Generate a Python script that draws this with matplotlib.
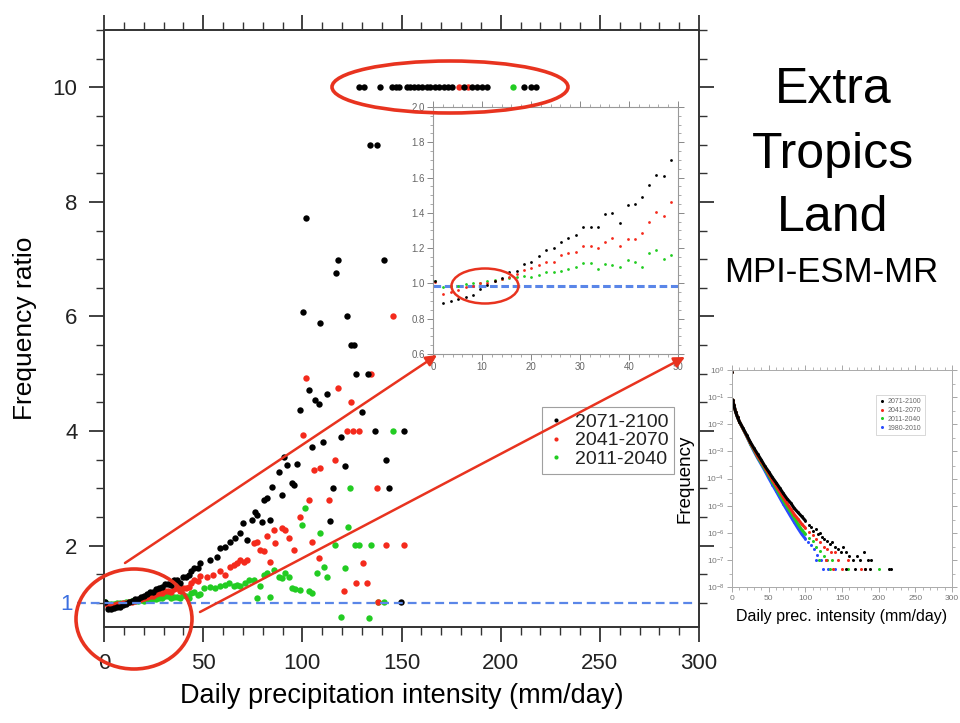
import matplotlib
matplotlib.use('Agg')
import matplotlib.pyplot as plt
from matplotlib.patches import Ellipse
from matplotlib.ticker import MultipleLocator, LogLocator, NullFormatter
from matplotlib.lines import Line2D

plt.rcParams['font.family'] = ['Liberation Sans', 'DejaVu Sans']

# ---- frequency ratio (future / 1980-2010) ----
x_2071 = [0.5, 2.0, 3.7, 5.1, 6.7, 8.1, 9.6, 11.1, 12.6, 14.1, 15.6, 17.1, 18.6, 20.1,
          21.6, 23.1, 24.6, 26.1, 27.6, 29.1, 30.6, 32.2, 33.6, 35.1, 36.6, 38.1, 39.7,
          41.2, 42.7, 44.1, 45.6, 47.2, 48.6,
          53.5, 57.0, 58.6, 61.0, 63.6, 66.0, 68.7, 70.3, 72.0, 74.6, 76.3, 77.0, 79.6,
          80.5, 82.0, 83.8, 84.7, 88.0, 89.7, 90.6, 92.3, 94.8, 95.6, 97.3, 98.6, 100.2,
          102.0, 103.2, 104.9, 106.6, 108.2, 109.0, 110.4, 112.5, 113.8, 115.3, 116.9,
          118.0, 119.5, 121.7, 122.7, 124.6, 126.3, 127.3, 130.3, 133.0, 134.3, 136.4,
          137.7, 141.0, 142.4, 143.9, 149.8, 151.2,
          128.5, 131.0, 139.4, 145.3, 147.0, 148.6, 152.9, 154.5, 156.2, 158.2, 160.4,
          163.0, 164.6, 166.7, 168.8, 171.4, 173.4, 175.6, 181.5, 185.7, 188.2, 190.8,
          193.3, 211.8, 215.2, 217.7]
r_2071 = [1.015, 0.889, 0.898, 0.913, 0.924, 0.935, 0.967, 0.99, 1.015, 1.03, 1.067, 1.071,
          1.109, 1.124, 1.156, 1.19, 1.199, 1.235, 1.258, 1.275, 1.322, 1.322, 1.32, 1.395,
          1.397, 1.344, 1.444, 1.448, 1.489, 1.557, 1.614, 1.61, 1.697,
          1.75, 1.81, 1.96, 1.98, 2.07, 2.13, 2.22, 2.39, 2.10, 2.45, 2.59, 2.53, 2.42,
          2.80, 2.83, 2.45, 3.03, 3.29, 2.88, 3.55, 3.41, 3.09, 3.06, 3.42, 4.36, 6.07,
          7.72, 4.71, 3.72, 4.54, 4.48, 5.89, 3.81, 4.65, 2.43, 3.00, 6.75,
          6.99, 3.89, 3.39, 6.00, 5.50, 5.50, 5.00, 4.33, 5.00, 9.0, 4.00,
          9.0, 6.99, 3.50, 3.00, 1.02, 4.00,
          10, 10, 10, 10, 10, 10, 10, 10, 10, 10, 10,
          10, 10, 10, 10, 10, 10, 10, 10, 10, 10, 10,
          10, 10, 10, 10]

x_2041 = [0.5, 2.0, 3.7, 5.1, 6.7, 8.1, 9.6, 11.1, 12.6, 14.1, 15.6, 17.1, 18.6, 20.1,
          21.6, 23.1, 24.6, 26.1, 27.6, 29.1, 30.6, 32.2, 33.6, 35.1, 36.6, 38.1, 39.7,
          41.2, 42.7, 44.1, 45.6, 47.2, 48.6,
          51.9, 55.2, 58.6, 61.1, 63.6, 65.3, 67.0, 68.7, 70.4, 72.0, 75.4, 77.1, 78.8,
          80.5, 82.2, 83.8, 85.5, 86.4, 89.7, 91.4, 93.1, 95.6, 99.0, 100.2, 101.8, 103.2,
          104.9, 105.7, 108.2, 109.0, 113.3, 116.7, 118.0, 120.9, 122.7, 124.3, 125.5,
          127.3, 128.4, 130.7, 132.7, 134.8, 137.7, 138.0, 142.4, 145.5, 151.2, 179.0, 183.5]
r_2041 = [1.007, 0.939, 0.95, 0.964, 0.977, 0.988, 1.0, 1.005, 1.011, 1.024, 1.039, 1.054,
          1.077, 1.086, 1.105, 1.124, 1.124, 1.162, 1.175, 1.18, 1.214, 1.214, 1.199, 1.237,
          1.256, 1.212, 1.252, 1.252, 1.284, 1.346, 1.403, 1.384, 1.463,
          1.46, 1.49, 1.55, 1.49, 1.63, 1.66, 1.69, 1.75, 1.72, 1.75, 2.04, 2.07, 1.93,
          1.90, 2.16, 1.72, 2.27, 2.04, 2.30, 2.27, 2.13, 1.93, 2.50, 3.93, 4.92, 2.80,
          2.07, 3.32, 1.78, 3.35, 2.80, 3.49, 4.75, 1.20, 4.0, 4.50, 4.0,
          1.34, 4.0, 1.69, 1.34, 5.0, 3.0, 1.02, 2.01, 6.0, 2.01, 10, 10]

x_2011 = [0.5, 2.0, 3.7, 5.1, 6.7, 8.1, 9.6, 11.1, 12.6, 14.1, 15.6, 17.1, 18.6, 20.1,
          21.6, 23.1, 24.6, 26.1, 27.6, 29.1, 30.6, 32.2, 33.6, 35.1, 36.6, 38.1, 39.7,
          41.2, 42.7, 44.1, 45.6, 47.2, 48.6,
          50.2, 53.5, 56.1, 58.6, 61.1, 62.8, 65.3, 67.0, 68.7, 71.2, 72.9, 75.4, 77.1,
          78.8, 80.5, 82.2, 83.8, 85.5, 88.0, 89.7, 91.4, 93.1, 94.8, 96.5, 99.0, 99.8,
          101.5, 103.2, 104.9, 107.4, 109.0, 110.8, 112.5, 116.7, 119.5, 121.7, 122.9,
          124.2, 126.8, 128.4, 133.5, 134.7, 138.0, 141.1, 145.5, 206.0]
r_2011 = [1.015, 0.977, 0.983, 0.988, 0.996, 1.001, 1.005, 1.011, 1.018, 1.026, 1.033,
          1.039, 1.043, 1.039, 1.048, 1.062, 1.062, 1.071, 1.081, 1.092, 1.113, 1.118,
          1.082, 1.111, 1.105, 1.092, 1.131, 1.12, 1.094, 1.173, 1.19, 1.139, 1.162,
          1.26, 1.27, 1.26, 1.29, 1.32, 1.34, 1.29, 1.32, 1.30, 1.34, 1.40, 1.40, 1.08,
          1.29, 1.49, 1.52, 1.11, 1.58, 1.46, 1.43, 1.52, 1.46, 1.26, 1.24, 1.22, 2.36,
          2.65, 1.20, 1.17, 1.52, 2.22, 1.63, 1.46, 2.01, 0.75, 1.61, 2.33,
          3.0, 2.01, 2.01, 0.74, 2.01, 1.02, 1.02, 4.0, 10]

# ---- frequency distributions (small panel) ----
fx = [0, 1, 2.5, 5, 7.5, 10, 15, 20, 25, 30, 35, 40, 45, 50, 55, 60, 65, 70, 75, 80,
      85, 90, 95, 100]
f_2071 = [0.87, 7.9e-2, 5.0e-2, 2.8e-2, 1.8e-2, 1.26e-2, 7.1e-3, 4.0e-3, 2.2e-3, 1.3e-3,
          7.9e-4, 4.8e-4, 2.8e-4, 1.8e-4, 1.1e-4, 7.1e-5, 4.5e-5, 2.8e-5, 1.8e-5, 1.26e-5,
          7.9e-6, 5.6e-6, 4.0e-6, 2.8e-6]
f_2041 = [0.87, 7.9e-2, 5.1e-2, 2.85e-2, 1.83e-2, 1.26e-2, 6.9e-3, 3.8e-3, 2.05e-3, 1.2e-3,
          6.6e-4, 4.2e-4, 2.5e-4, 1.5e-4, 9.0e-5, 5.4e-5, 3.3e-5, 2.0e-5, 1.2e-5, 7.6e-6,
          4.7e-6, 3.2e-6, 2.1e-6, 1.5e-6]
f_2011 = [0.87, 7.9e-2, 5.15e-2, 2.9e-2, 1.84e-2, 1.26e-2, 6.8e-3, 3.7e-3, 1.95e-3, 1.1e-3,
          6.1e-4, 3.7e-4, 2.2e-4, 1.3e-4, 7.6e-5, 4.5e-5, 2.6e-5, 1.55e-5, 9.3e-6, 5.8e-6,
          3.5e-6, 2.1e-6, 1.3e-6, 9e-7]
f_1980 = [0.87, 7.9e-2, 5.2e-2, 2.9e-2, 1.85e-2, 1.26e-2, 6.8e-3, 3.6e-3, 1.85e-3, 1.0e-3,
          5.6e-4, 3.3e-4, 1.9e-4, 1.05e-4, 6.0e-5, 3.5e-5, 2.0e-5, 1.15e-5, 6.8e-6, 4.0e-6,
          2.4e-6, 1.45e-6, 9e-7, 6e-7]

tx_2071 = [105, 108, 111, 114, 117, 120, 123, 126, 130, 133, 136, 140, 144, 148, 152, 156,
           160, 165, 170, 175, 180, 185, 190, 155, 168, 182, 188, 214, 217]
tf_2071 = [2.0e-6, 1.6e-6, 1.2e-6, 1.4e-6, 9e-7, 1.0e-6, 7e-7, 6e-7, 5e-7, 4e-7, 4.5e-7,
           3e-7, 2.5e-7, 2e-7, 3e-7, 2e-7, 1.4e-7, 1e-7, 1.4e-7, 1e-7, 2e-7, 1e-7, 1e-7,
           4.6e-8, 4.6e-8, 4.6e-8, 4.6e-8, 4.6e-8, 4.6e-8]
tx_2041 = [105, 110, 115, 120, 125, 130, 135, 140, 128, 145, 158, 138, 150, 176, 182]
tf_2041 = [1.1e-6, 8e-7, 6e-7, 4.5e-7, 3e-7, 2.5e-7, 2e-7, 2e-7, 1e-7, 1e-7, 1e-7,
           4.6e-8, 4.6e-8, 4.6e-8, 4.6e-8]
tx_2011 = [105, 110, 115, 120, 125, 118, 130, 136, 134, 158, 200]
tf_2011 = [6.5e-7, 5e-7, 3e-7, 2.2e-7, 1.4e-7, 1e-7, 1e-7, 1e-7, 4.6e-8, 4.6e-8, 4.6e-8]
tx_1980 = [104, 108, 112, 116, 114, 122, 128, 124, 131, 140]
tf_1980 = [4.5e-7, 3.5e-7, 2.5e-7, 1.5e-7, 1e-7, 1e-7, 1e-7, 4.6e-8, 4.6e-8, 4.6e-8]

labels = ['2071-2100', '2041-2070', '2011-2040', '1980-2010']
colors = ['black', '#f42a1c', '#22cc22', '#2a4cff']
ann_red = '#e8331f'
blue_line = '#5a86e8'

W, H = 960, 723
fig = plt.figure(figsize=(9.6, 7.23), dpi=100)


def frac(l, t, r, b):
    return [l / W, 1 - b / H, (r - l) / W, (b - t) / H]


# ---------------- main panel ----------------
ax = fig.add_axes(frac(104, 30, 699, 627))
series = [(x_2011, r_2011, colors[2]), (x_2041, r_2041, colors[1]), (x_2071, r_2071, colors[0])]
for xs, ys, c in series:
    ax.plot(xs, ys, 'o', color=c, ms=4.6, mew=0, clip_on=True)
ax.set_xlim(0, 300)
ax.set_ylim(0.58, 11)
ax.xaxis.set_major_locator(MultipleLocator(50))
ax.xaxis.set_minor_locator(MultipleLocator(10))
ax.yaxis.set_major_locator(MultipleLocator(2))
ax.yaxis.set_minor_locator(MultipleLocator(0.5))
ax.tick_params(which='both', direction='out', top=True, right=True, color='#333333',
               labelsize=16, labelcolor='#222222', pad=8)
ax.tick_params(which='major', length=11, width=1.3)
ax.tick_params(which='minor', length=5.5, width=1.0)
for s in ax.spines.values():
    s.set_color('#333333')
    s.set_linewidth(1.4)
ax.set_xlabel('Daily precipitation intensity (mm/day)', fontsize=19.5, labelpad=6)
ax.set_ylabel('Frequency ratio', fontsize=19, labelpad=11)

handles = [Line2D([], [], ls='', marker='o', ms=3, mew=0, color=c) for c in colors[:3]]
leg = ax.legend(handles, labels[:3], loc='upper left', bbox_to_anchor=(0.736, 0.368),
                fontsize=14, frameon=True, fancybox=False, handlelength=0.8,
                handletextpad=0.6, borderpad=0.3, labelspacing=0.05, borderaxespad=0)
leg.get_frame().set_edgecolor('#888888')
leg.get_frame().set_linewidth(0.8)
for t in leg.get_texts():
    t.set_color('#222222')

# ---------------- zoomed inset (0-50) ----------------
ai = fig.add_axes(frac(433, 107, 678, 354))
for xs, ys, c in series:
    ai.plot(xs, ys, 'o', color=c, ms=2.0, mew=0)
ai.axhline(0.983, color=blue_line, lw=2.2, dashes=(2.5, 1.2), zorder=1)
ai.set_xlim(0, 50)
ai.set_ylim(0.6, 2.0)
ai.xaxis.set_major_locator(MultipleLocator(10))
ai.xaxis.set_minor_locator(MultipleLocator(2))
ai.yaxis.set_major_locator(MultipleLocator(0.2))
ai.yaxis.set_minor_locator(MultipleLocator(0.05))
ai.tick_params(which='both', direction='out', top=True, right=True, color='#888888',
               labelsize=7, labelcolor='#666666', pad=2)
ai.tick_params(which='major', length=4, width=0.7)
ai.tick_params(which='minor', length=2, width=0.5)
ai.yaxis.set_major_formatter(matplotlib.ticker.FormatStrFormatter('%.1f'))
for s in ai.spines.values():
    s.set_color('#999999')
    s.set_linewidth(0.8)

# ---------------- frequency distribution panel ----------------
af = fig.add_axes(frac(732, 370, 952, 587))
curves = [(fx, f_1980, tx_1980, tf_1980, colors[3]),
          (fx, f_2011, tx_2011, tf_2011, colors[2]),
          (fx, f_2041, tx_2041, tf_2041, colors[1]),
          (fx, f_2071, tx_2071, tf_2071, colors[0])]
for xs, fs, txs, tfs, c in curves:
    af.plot(xs[1:], fs[1:], '-', color=c, lw=2.2, solid_capstyle='round')
    af.plot(xs, fs, 'o', color=c, ms=2.0, mew=0)
    af.plot(txs, tfs, 'o', color=c, ms=2.2, mew=0)
af.set_yscale('log')
af.set_xlim(0, 300)
af.set_ylim(1e-8, 1)
af.xaxis.set_major_locator(MultipleLocator(50))
af.xaxis.set_minor_locator(MultipleLocator(10))
af.yaxis.set_major_locator(LogLocator(base=10, numticks=12))
af.yaxis.set_minor_locator(LogLocator(base=10, subs=[3.0], numticks=12))
af.yaxis.set_minor_formatter(NullFormatter())
af.tick_params(which='both', direction='out', top=True, right=True, color='#999999',
               labelsize=6, labelcolor='#777777', pad=2)
af.tick_params(which='major', length=3.5, width=0.6)
af.tick_params(which='minor', length=2, width=0.5)
for s in af.spines.values():
    s.set_color('#aaaaaa')
    s.set_linewidth(0.7)
af.set_xlabel('Daily prec. intensity (mm/day)', fontsize=11.5, labelpad=5)
af.set_ylabel('Frequency', fontsize=13.5, labelpad=9)
fh = [Line2D([], [], ls='', marker='o', ms=2.2, mew=0, color=c) for c in colors]
fl = af.legend(fh, labels, loc='upper right', bbox_to_anchor=(0.877, 0.885), fontsize=5,
               frameon=True, fancybox=False, handlelength=0.6, handletextpad=0.6,
               borderpad=0.5, labelspacing=0.25, borderaxespad=0)
fl.get_frame().set_edgecolor('#bbbbbb')
fl.get_frame().set_linewidth(0.5)
for t in fl.get_texts():
    t.set_color('#666666')

# ---------------- titles & annotations (figure pixels) ----------------
ov = fig.add_axes([0, 0, 1, 1], zorder=10)
ov.set_xlim(0, W)
ov.set_ylim(H, 0)
ov.axis('off')
ov.patch.set_alpha(0)

ov.text(833, 90, 'Extra', fontsize=36, ha='center', va='center')
ov.text(833, 155, 'Tropics', fontsize=36, ha='center', va='center')
ov.text(833, 218, 'Land', fontsize=36, ha='center', va='center')
ov.text(831, 272, 'MPI-ESM-MR', fontsize=25, ha='center', va='center')

# reference line at ratio 1, drawn a bit past the left spine as in the original
ov.plot([77, 697], [603, 603], color=blue_line, lw=1.6, dashes=(4, 2.2), zorder=0)
ov.text(66, 604, '1', fontsize=16, color='#3b6fe0', ha='center', va='center')

for cx, cy, w, h, lw in [(450, 87, 236, 52, 2.6), (134, 619, 116, 100, 2.6),
                         (485, 286, 67, 35, 1.8)]:
    ov.add_patch(Ellipse((cx, cy), w, h, fill=False, edgecolor=ann_red, lw=lw))
for start, end in [((125, 563), (437, 355)), ((200, 612), (685, 357))]:
    ov.annotate('', xy=end, xytext=start,
                arrowprops=dict(arrowstyle='-|>', color=ann_red, lw=1.8,
                                mutation_scale=16, shrinkA=0, shrinkB=0))

fig.savefig('out.png', dpi=100)
